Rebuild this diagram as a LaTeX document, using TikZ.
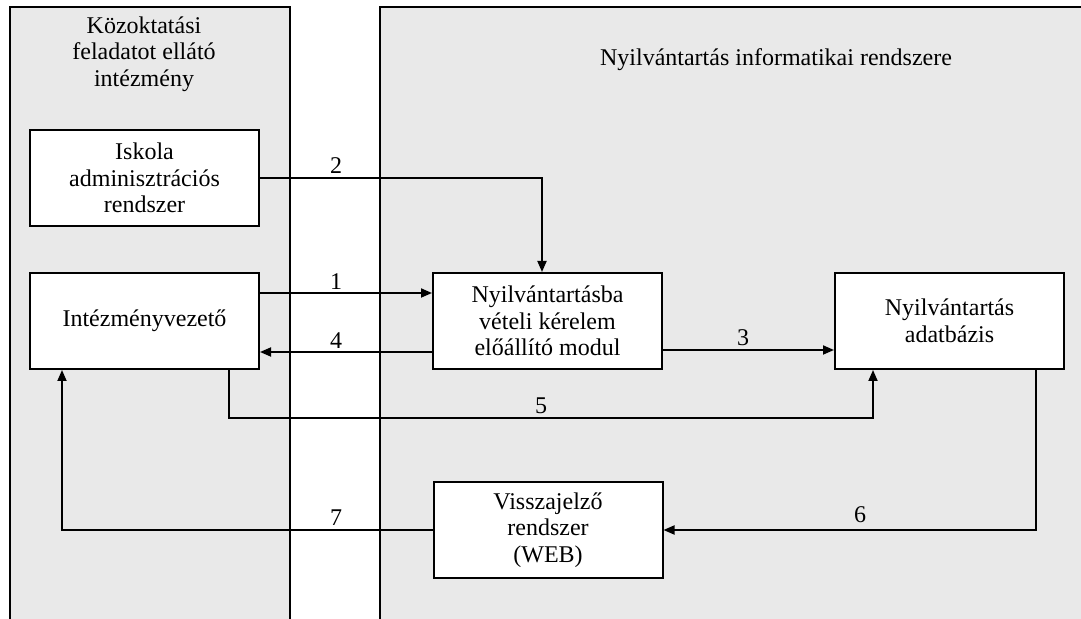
\documentclass[tikz,border=0pt]{standalone}
\usepackage{fontspec}
\setmainfont{Liberation Serif}
\usetikzlibrary{arrows.meta}
\definecolor{panelgray}{RGB}{233,233,233}
\begin{document}
\begin{tikzpicture}[x=0.5pt,y=-0.5pt,
  every node/.style={font=\fontsize{12}{13.3}\selectfont},
  blk/.style={draw, line width=1pt, fill=white, align=center, inner sep=0pt,
    minimum width=114.5pt, minimum height=48pt},
  pan/.style={fill=panelgray, draw, line width=1pt},
  arr/.style={line width=0.9pt, -{Triangle[length=5.5pt,width=4.5pt]}},
  lin/.style={line width=0.9pt}]
\clip (0,0) rectangle (1081,619);
\fill[white] (0,0) rectangle (1081,619);
\draw[pan] (10,640) -- (10,7) -- (290,7) -- (290,640);
\draw[pan] (380,640) -- (380,7) -- (1100,7) -- (1100,640);
\node[align=center] (lhead) at (144,54) {Közoktatási\\feladatot ellátó\\intézmény};
\node (rhead) at (776,60) {Nyilvántartás informatikai rendszere};
\node[blk] (isk) at (144.5,178) {Iskola\\adminisztrációs\\rendszer};
\node[blk] (intv) at (144.5,321) {Intézményvezető};
\node[blk] (kerm) at (547.5,321) {Nyilvántartásba\\vételi kérelem\\előállító modul};
\node[blk] (adb) at (949.5,321) {Nyilvántartás\\adatbázis};
\node[blk] (visz) at (548,530) {Visszajelző\\rendszer\\(WEB)};
\coordinate (b2) at (542,178);
\coordinate (b5a) at (229,418);
\coordinate (b5b) at (873,418);
\coordinate (b6) at (1036,530);
\coordinate (b7) at (62,530);
\draw[arr] (isk.east) -- (b2) -- (b2 |- kerm.north);
\draw[arr] ([yshift=14pt]intv.east) -- ([yshift=14pt]kerm.west);
\draw[arr] ([yshift=-15.5pt]kerm.west) -- ([yshift=-15.5pt]intv.east);
\draw[arr] ([yshift=-14.5pt]kerm.east) -- ([yshift=-14.5pt]adb.west);
\draw[arr] (b5a |- intv.south) -- (b5a) -- (b5b) -- (b5b |- adb.south);
\draw[arr] (b6 |- adb.south) -- (b6) -- (visz.east);
\draw[arr] (visz.west) -- (b7) -- (b7 |- intv.south);
\node (l2) at (336,166) {2};
\node (l1) at (336,282) {1};
\node (l4) at (336,341) {4};
\node (l3) at (743,338) {3};
\node (l5) at (541,406) {5};
\node (l6) at (860,515) {6};
\node (l7) at (336,518) {7};
\end{tikzpicture}
\end{document}
